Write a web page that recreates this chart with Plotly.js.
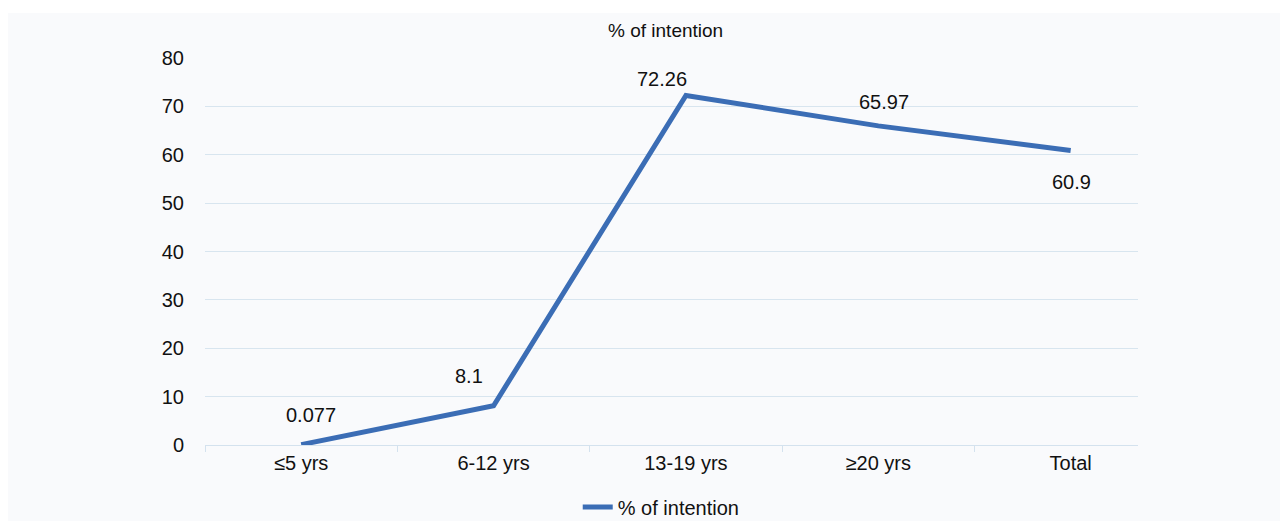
<!DOCTYPE html>
<html>
<head>
<meta charset="utf-8">
<script src="https://cdn.plot.ly/plotly-3.0.1.min.js"></script>
<style>html,body{margin:0;padding:0;background:#fff;}#chart{width:1280px;height:521px;}</style>
</head>
<body>
<div id="chart"></div>
<script>
const categories = ["≤5 yrs", "6-12 yrs", "13-19 yrs", "≥20 yrs", "Total"];
const intention = [0.077, 8.1, 72.26, 65.97, 60.9];
const valueLabels = ["0.077", "8.1", "72.26", "65.97", "60.9"];
const seriesName = "% of intention";
const chartTitle = "% of intention";

const FONT = '"Liberation Sans", Arial, Helvetica, sans-serif';
const labelShift = [[10, 30], [-25, 30], [-24, 16], [6, 24], [1, -32]];

const annotations = intention.map((v, i) => ({
  x: categories[i], y: v, xref: 'x', yref: 'y', text: valueLabels[i], showarrow: false,
  xshift: labelShift[i][0], yshift: labelShift[i][1],
  font: {family: FONT, size: 20, color: '#111'}
}));

const trace = {
  x: categories, y: intention, type: 'scatter', mode: 'lines',
  name: seriesName, line: {color: '#3b6db5', width: 5}
};

const layout = {
  width: 1280, height: 521,
  margin: {l: 205, r: 142, t: 58, b: 76, autoexpand: false},
  paper_bgcolor: '#ffffff', plot_bgcolor: 'rgba(0,0,0,0)',
  font: {family: FONT, size: 20, color: '#111'},
  title: {text: chartTitle, x: 0.52, xref: 'container', y: 1 - 30/521, yref: 'container', yanchor: 'middle', xanchor: 'center', font: {family: FONT, size: 19, color: '#111'}},
  xaxis: {
    type: 'category', range: [-0.5, 4.35],
    showgrid: false, zeroline: false, showline: true, linecolor: '#d4e2ee', linewidth: 1,
    ticks: 'outside', tickson: 'boundaries', ticklen: 6, tickcolor: '#d4e2ee',
    tickfont: {family: FONT, size: 20, color: '#111'}, fixedrange: true
  },
  yaxis: {
    range: [0, 80], dtick: 10, showgrid: true, gridcolor: '#d8e5ef', gridwidth: 1,
    zeroline: false, showline: false, ticks: '', ticklabelstandoff: 20,
    tickfont: {family: FONT, size: 20, color: '#111'}, fixedrange: true
  },
  showlegend: true,
  legend: {orientation: 'h', x: 0.489, xanchor: 'center', y: -0.16, yanchor: 'middle',
    font: {family: FONT, size: 20, color: '#111'}, bgcolor: 'rgba(0,0,0,0)'},
  shapes: [{type: 'rect', xref: 'paper', yref: 'paper', x0: -0.211, x1: 1.3, y0: -0.4, y1: 1.116,
    fillcolor: '#f9fafc', line: {width: 0}, layer: 'below'}],
  annotations: annotations
};

Plotly.newPlot('chart', [trace], layout, {displayModeBar: false, staticPlot: true});
</script>
</body>
</html>
